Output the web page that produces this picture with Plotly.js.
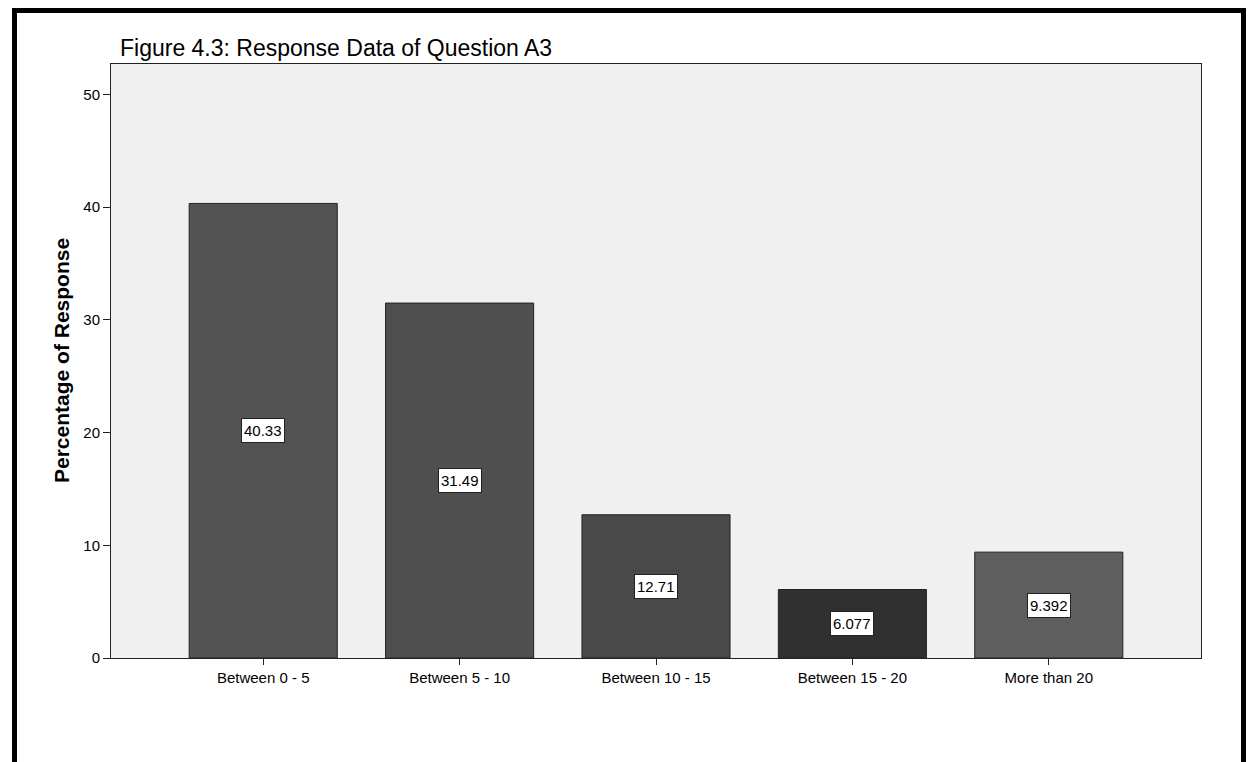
<!DOCTYPE html>
<html>
<head>
<meta charset="utf-8">
<script src="https://cdn.plot.ly/plotly-3.0.1.min.js"></script>
<style>
  html, body { margin: 0; padding: 0; background: #fff; }
  #chart { width: 1248px; height: 762px; }
  #frame { position: absolute; left: 12px; top: 8px; width: 1224px; height: 760px;
           border: 5px solid #000; border-bottom: none; pointer-events: none; }
</style>
</head>
<body>
<div id="chart"></div>
<div id="frame"></div>
<script>
const categories = ["Between 0 - 5", "Between 5 - 10", "Between 10 - 15", "Between 15 - 20", "More than 20"];
const percentages = [40.33, 31.49, 12.71, 6.077, 9.392];
const valueLabels = ["40.33", "31.49", "12.71", "6.077", "9.392"];
const barColors = ["#535353", "#4f4f4f", "#494949", "#303030", "#5e5e5e"];
const yTicks = [0, 10, 20, 30, 40, 50];

const FONT = "Liberation Sans, Arial, sans-serif";

const trace = {
  type: "bar",
  x: categories,
  y: percentages,
  marker: { color: barColors, line: { color: "#222", width: 1 } },
  hoverinfo: "skip"
};

const annotations = categories.map((c, i) => ({
  x: c, y: percentages[i] / 2, xref: "x", yref: "y",
  text: valueLabels[i], showarrow: false,
  font: { family: FONT, size: 15, color: "#000" },
  height: 19, valign: "middle",
  bgcolor: "#fff", bordercolor: "#222", borderwidth: 1, borderpad: 2
}));
annotations.push({
  xref: "paper", yref: "paper", x: 0.006, y: 1, xanchor: "left", yanchor: "bottom",
  yshift: 1,
  text: "Figure 4.3: Response Data of Question A3", showarrow: false,
  font: { family: FONT, size: 23, color: "#000" }
});
annotations.push({
  xref: "paper", yref: "paper", x: 0, y: 0.5, xanchor: "center", yanchor: "middle",
  xshift: -50, textangle: -90,
  text: "<b>Percentage of Response</b>", showarrow: false,
  font: { family: FONT, size: 21, color: "#000" }
});

const layout = {
  width: 1248, height: 762,
  margin: { l: 111, r: 47, t: 64, b: 104 },
  paper_bgcolor: "#fff",
  plot_bgcolor: "#f0f0f0",
  showlegend: false,
  bargap: 0.246,
  xaxis: {
    range: [-0.775, 4.775],
    showgrid: false, zeroline: false,
    showline: true, linecolor: "#222", linewidth: 1, mirror: true,
    ticks: "outside", ticklen: 6, tickcolor: "#222", tickwidth: 1,
    tickfont: { family: FONT, size: 15, color: "#000" }
  },
  yaxis: {
    range: [0, 52.7],
    tickvals: yTicks,
    showgrid: false, zeroline: false,
    showline: true, linecolor: "#222", linewidth: 1, mirror: true,
    ticks: "outside", ticklen: 7, tickcolor: "#222", tickwidth: 1,
    tickfont: { family: FONT, size: 15, color: "#000" }
  },
  annotations: annotations
};

Plotly.newPlot("chart", [trace], layout, { displayModeBar: false, staticPlot: true });
</script>
</body>
</html>
